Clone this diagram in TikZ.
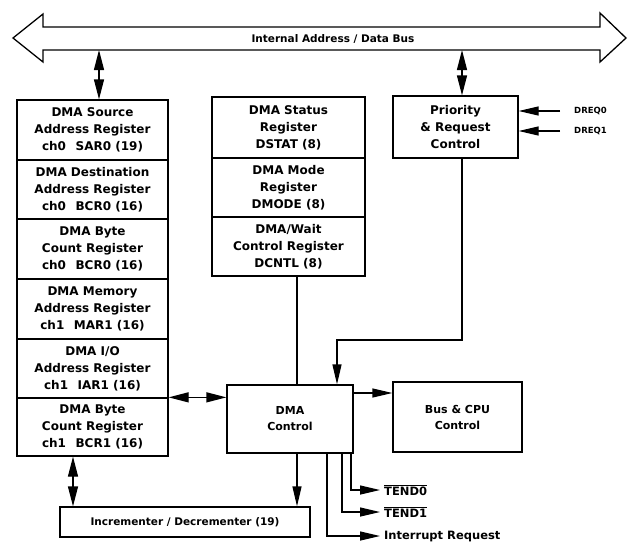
\documentclass[tikz,border=0pt]{standalone}
\usepackage{fontspec}
\setmainfont{DejaVu Sans}
\usetikzlibrary{arrows.meta}
\begin{document}
\begin{tikzpicture}[x=1pt,y=-1pt,
  lw/.style={line width=1.3pt},
  reg/.style={draw, lw, inner sep=0pt, align=center, font=\fontsize{12}{17}\selectfont\bfseries},
  lbl/.style={inner sep=0pt, anchor=west, font=\fontsize{11.5}{14}\selectfont\bfseries},
  small/.style={inner sep=0pt, anchor=west, font=\fontsize{8.5}{10}\selectfont\bfseries},
  arr/.style={lw, -{Triangle[length=20pt,width=9pt]}},
  dbl/.style={lw, {Triangle[length=20pt,width=10pt]}-{Triangle[length=20pt,width=10pt]}},
  wire/.style={lw}]
\useasboundingbox (0,0) rectangle (629,542);
% bus
\draw[lw, line join=miter] (13,38) -- (43,14) -- (43,27) -- (600,27) -- (600,13) -- (626,38)
   -- (600,62) -- (600,50) -- (43,50) -- (43,62) -- cycle;
\node[inner sep=0pt, font=\fontsize{10.5}{12}\selectfont\bfseries] (bus) at (333,39) {Internal Address / Data Bus};
\coordinate (busL) at (99,50);
\coordinate (busR) at (462,50);
% left stack
\node[reg, minimum width=151pt, minimum height=60pt] (sar) at (92.5,130) {DMA Source\\Address Register\\ch0\hspace{0.8em}SAR0 (19)};
\node[reg, minimum width=151pt, minimum height=59pt] (dar) at (92.5,189.5) {DMA Destination\\Address Register\\ch0\hspace{0.8em}BCR0 (16)};
\node[reg, minimum width=151pt, minimum height=60pt] (bcr0) at (92.5,249) {DMA Byte\\Count Register\\ch0\hspace{0.8em}BCR0 (16)};
\node[reg, minimum width=151pt, minimum height=60pt] (mar) at (92.5,309) {DMA Memory\\Address Register\\ch1\hspace{0.8em}MAR1 (16)};
\node[reg, minimum width=151pt, minimum height=59pt] (iar) at (92.5,368.5) {DMA I/O\\Address Register\\ch1\hspace{0.8em}IAR1 (16)};
\node[reg, minimum width=151pt, minimum height=58pt] (bcr1) at (92.5,427) {DMA Byte\\Count Register\\ch1\hspace{0.8em}BCR1 (16)};
% middle stack
\node[reg, minimum width=153pt, minimum height=61pt] (dstat) at (288.5,127.5) {DMA Status\\Register\\DSTAT (8)};
\node[reg, minimum width=153pt, minimum height=59pt] (dmode) at (288.5,187.5) {DMA Mode\\Register\\DMODE (8)};
\node[reg, minimum width=153pt, minimum height=59pt] (dcntl) at (288.5,246.5) {DMA/Wait\\Control Register\\DCNTL (8)};
% right blocks
\node[reg, minimum width=125pt, minimum height=62pt] (prio) at (455.5,127) {Priority\\\& Request\\Control};
\node[reg, minimum width=126pt, minimum height=68pt, font=\fontsize{11}{16}\selectfont\bfseries] (ctrl) at (290,419) {DMA\\Control};
\node[reg, minimum width=129pt, minimum height=70pt, font=\fontsize{11}{16}\selectfont\bfseries] (buscpu) at (457.5,417) {Bus \& CPU\\Control};
\node[reg, minimum width=250pt, minimum height=30pt, font=\fontsize{10.5}{12}\selectfont\bfseries] (incdec) at (185,522) {Incrementer / Decrementer (19)};
% labels
\node[small] (dreq0) at (574,111) {DREQ0};
\node[small] (dreq1) at (574,131) {DREQ1};
\node[lbl] (tend0) at (384,490) {$\overline{\mbox{\bfseries TEND0}}$};
\node[lbl] (tend1) at (384,512) {$\overline{\mbox{\bfseries TEND1}}$};
\node[lbl] (irq) at (384,536) {Interrupt Request};
% connectors
\draw[dbl] (busL) -- (sar.north -| busL);
\draw[dbl] (busR) -- (prio.north -| busR);
\draw[arr] ([xshift=-14pt]dreq0.west) -- (dreq0.west -| prio.east);
\draw[arr] ([xshift=-14pt]dreq1.west) -- (dreq1.west -| prio.east);
\coordinate (dc) at (297,0);
\draw[wire] (dcntl.south -| dc) -- (ctrl.north -| dc);
\coordinate (pr) at (462,340);
\coordinate (pc) at (337,340);
\draw[arr] (prio.south -| pr) -- (pr) -- (pc) -- (ctrl.north -| pc);
\draw[dbl] (bcr1.north east) -- (bcr1.north east -| ctrl.west);
\coordinate (cb) at (0,393);
\draw[arr] (ctrl.east |- cb) -- (buscpu.west |- cb);
\draw[arr] (ctrl.south -| dc) -- (incdec.north -| dc);
\coordinate (bi) at (73,0);
\draw[dbl] (bcr1.south -| bi) -- (incdec.north -| bi);
\coordinate (t0) at (351,0);
\coordinate (t1) at (342,0);
\coordinate (ti) at (327,0);
\draw[arr] (ctrl.south -| t0) -- (t0 |- tend0.west) -- ([xshift=-4pt]tend0.west);
\draw[arr] (ctrl.south -| t1) -- (t1 |- tend1.west) -- ([xshift=-4pt]tend1.west);
\draw[arr] (ctrl.south -| ti) -- (ti |- irq.west) -- ([xshift=-4pt]irq.west);
\end{tikzpicture}
\end{document}
